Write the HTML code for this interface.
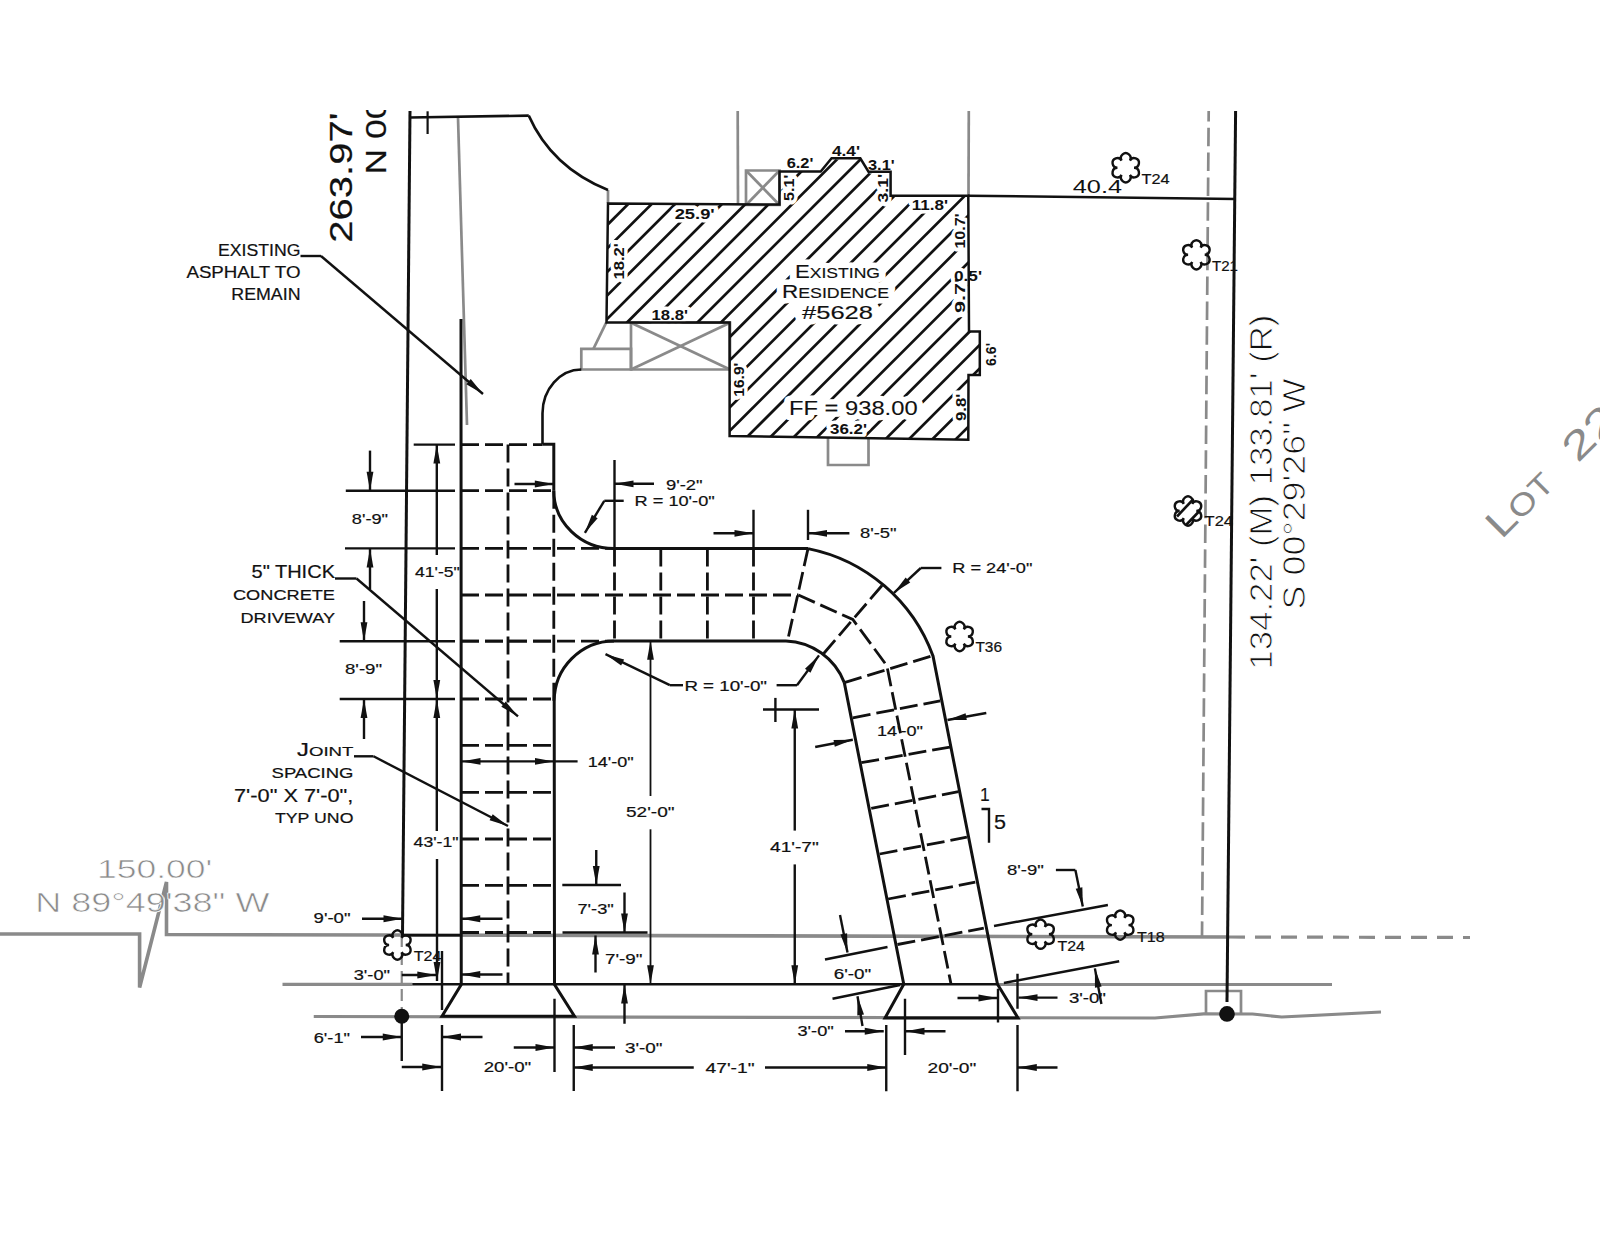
<!DOCTYPE html><html><head><meta charset="utf-8"><style>html,body{margin:0;padding:0;background:#fff;}svg{display:block;}text{font-family:"Liberation Sans",sans-serif;}</style></head><body><svg width="1600" height="1236" viewBox="0 0 1600 1236" font-family="Liberation Sans, sans-serif">
<rect width="1600" height="1236" fill="#fff"/>
<defs><clipPath id="crop"><rect x="0" y="110" width="1600" height="1126"/></clipPath>
<clipPath id="hc"><polygon points="608,203.5 779.5,204.5 779.5,171.5 820.7,171.5 831.6,158.3 860.3,158.3 868.5,171.7 890.6,171.7 890.6,195.7 968.3,195.7 969,331.5 979.8,331.5 979.8,375 968.5,375 968.3,439.8 729.6,436 729.6,322.5 606.5,322.5"/></clipPath></defs>
<g clip-path="url(#crop)">
<line x1="458.00" y1="117.50" x2="467.00" y2="425.00" stroke="#8a8a8a" stroke-width="2.7"/>
<line x1="608.00" y1="190.00" x2="608.00" y2="203.00" stroke="#8a8a8a" stroke-width="2.7"/>
<line x1="737.70" y1="111.00" x2="738.00" y2="205.00" stroke="#8a8a8a" stroke-width="2.7"/>
<polygon points="746.00,170.50 779.50,170.50 779.50,205.00 746.00,205.00" fill="none" stroke="#8a8a8a" stroke-width="2.7" stroke-linejoin="miter"/>
<line x1="746.00" y1="170.50" x2="779.50" y2="205.00" stroke="#8a8a8a" stroke-width="2.7"/>
<line x1="746.00" y1="205.00" x2="779.50" y2="170.50" stroke="#8a8a8a" stroke-width="2.7"/>
<line x1="968.80" y1="111.00" x2="968.50" y2="195.70" stroke="#8a8a8a" stroke-width="2.7"/>
<polygon points="631.00,322.70 730.00,322.70 730.00,369.50 631.00,369.50" fill="none" stroke="#8a8a8a" stroke-width="2.7" stroke-linejoin="miter"/>
<line x1="631.00" y1="322.70" x2="730.00" y2="369.50" stroke="#8a8a8a" stroke-width="2.7"/>
<line x1="631.00" y1="369.50" x2="730.00" y2="322.70" stroke="#8a8a8a" stroke-width="2.7"/>
<polygon points="581.30,348.80 631.00,348.80 631.00,369.50 581.30,369.50" fill="none" stroke="#8a8a8a" stroke-width="2.7" stroke-linejoin="miter"/>
<line x1="606.20" y1="322.70" x2="593.40" y2="348.80" stroke="#8a8a8a" stroke-width="2.7"/>
<polyline points="828.00,438.00 828.00,465.00 868.50,465.00 868.50,438.00" fill="none" stroke="#8a8a8a" stroke-width="2.7" stroke-linejoin="miter"/>
<line x1="1208.7" y1="111" x2="1202" y2="937.5" stroke="#8a8a8a" stroke-width="2.7" stroke-dasharray="18.5 6.3" stroke-dashoffset="8"/>
<polyline points="0.00,934.00 139.60,934.00 139.60,987.50 166.50,882.00 166.50,934.50 1229.00,937.00" fill="none" stroke="#8a8a8a" stroke-width="3.6" stroke-linejoin="miter"/>
<line x1="1229.00" y1="937.00" x2="1470.00" y2="937.50" stroke="#8a8a8a" stroke-width="3.2" stroke-dasharray="16 10"/>
<line x1="282.50" y1="984.30" x2="412.30" y2="984.30" stroke="#8a8a8a" stroke-width="3.2"/>
<line x1="997.50" y1="984.60" x2="1332.00" y2="984.60" stroke="#8a8a8a" stroke-width="3.0"/>
<polyline points="313.75,1016.50 1155.00,1018.00 1203.70,1013.90 1252.50,1014.00 1281.70,1017.00 1381.00,1012.00" fill="none" stroke="#8a8a8a" stroke-width="3.2" stroke-linejoin="miter"/>
<line x1="401.75" y1="935.00" x2="401.75" y2="1010.00" stroke="#8a8a8a" stroke-width="2.2" stroke-dasharray="12 6"/>
<polyline points="1206.00,1014.00 1206.00,991.00 1241.00,991.00 1241.00,1014.00" fill="none" stroke="#8a8a8a" stroke-width="2.7" stroke-linejoin="miter"/>
<text x="97.00" y="878.30" font-size="26.60" font-weight="normal" fill="#8a8a8a" textLength="115.40" lengthAdjust="spacingAndGlyphs" text-anchor="start" stroke="#fff" stroke-width="0.6">150.00'</text>
<text x="35.20" y="911.70" font-size="27.62" font-weight="normal" fill="#8a8a8a" textLength="234.20" lengthAdjust="spacingAndGlyphs" text-anchor="start" stroke="#fff" stroke-width="0.6">N 89°49'38" W</text>
<g transform="translate(1501.5,540) rotate(-45)"><text x="0" y="0" fill="#8a8a8a" textLength="77" lengthAdjust="spacingAndGlyphs"><tspan font-size="39.24">L</tspan><tspan font-size="30.52">OT</tspan></text><text x="108" y="0" fill="#8a8a8a" font-size="39.24" textLength="60" lengthAdjust="spacingAndGlyphs">22</text></g>
<g clip-path="url(#hc)">
<line x1="615.00" y1="100.00" x2="215.00" y2="500.00" stroke="#111" stroke-width="2.7"/>
<line x1="638.45" y1="100.00" x2="238.45" y2="500.00" stroke="#111" stroke-width="2.7"/>
<line x1="661.90" y1="100.00" x2="261.90" y2="500.00" stroke="#111" stroke-width="2.7"/>
<line x1="685.35" y1="100.00" x2="285.35" y2="500.00" stroke="#111" stroke-width="2.7"/>
<line x1="708.80" y1="100.00" x2="308.80" y2="500.00" stroke="#111" stroke-width="2.7"/>
<line x1="732.25" y1="100.00" x2="332.25" y2="500.00" stroke="#111" stroke-width="2.7"/>
<line x1="755.70" y1="100.00" x2="355.70" y2="500.00" stroke="#111" stroke-width="2.7"/>
<line x1="779.15" y1="100.00" x2="379.15" y2="500.00" stroke="#111" stroke-width="2.7"/>
<line x1="802.60" y1="100.00" x2="402.60" y2="500.00" stroke="#111" stroke-width="2.7"/>
<line x1="826.05" y1="100.00" x2="426.05" y2="500.00" stroke="#111" stroke-width="2.7"/>
<line x1="849.50" y1="100.00" x2="449.50" y2="500.00" stroke="#111" stroke-width="2.7"/>
<line x1="872.95" y1="100.00" x2="472.95" y2="500.00" stroke="#111" stroke-width="2.7"/>
<line x1="896.40" y1="100.00" x2="496.40" y2="500.00" stroke="#111" stroke-width="2.7"/>
<line x1="919.85" y1="100.00" x2="519.85" y2="500.00" stroke="#111" stroke-width="2.7"/>
<line x1="943.30" y1="100.00" x2="543.30" y2="500.00" stroke="#111" stroke-width="2.7"/>
<line x1="966.75" y1="100.00" x2="566.75" y2="500.00" stroke="#111" stroke-width="2.7"/>
<line x1="990.20" y1="100.00" x2="590.20" y2="500.00" stroke="#111" stroke-width="2.7"/>
<line x1="1013.65" y1="100.00" x2="613.65" y2="500.00" stroke="#111" stroke-width="2.7"/>
<line x1="1037.10" y1="100.00" x2="637.10" y2="500.00" stroke="#111" stroke-width="2.7"/>
<line x1="1060.55" y1="100.00" x2="660.55" y2="500.00" stroke="#111" stroke-width="2.7"/>
<line x1="1084.00" y1="100.00" x2="684.00" y2="500.00" stroke="#111" stroke-width="2.7"/>
<line x1="1107.45" y1="100.00" x2="707.45" y2="500.00" stroke="#111" stroke-width="2.7"/>
<line x1="1130.90" y1="100.00" x2="730.90" y2="500.00" stroke="#111" stroke-width="2.7"/>
<line x1="1154.35" y1="100.00" x2="754.35" y2="500.00" stroke="#111" stroke-width="2.7"/>
<line x1="1177.80" y1="100.00" x2="777.80" y2="500.00" stroke="#111" stroke-width="2.7"/>
<line x1="1201.25" y1="100.00" x2="801.25" y2="500.00" stroke="#111" stroke-width="2.7"/>
<line x1="1224.70" y1="100.00" x2="824.70" y2="500.00" stroke="#111" stroke-width="2.7"/>
<line x1="1248.15" y1="100.00" x2="848.15" y2="500.00" stroke="#111" stroke-width="2.7"/>
<line x1="1271.60" y1="100.00" x2="871.60" y2="500.00" stroke="#111" stroke-width="2.7"/>
<line x1="1295.05" y1="100.00" x2="895.05" y2="500.00" stroke="#111" stroke-width="2.7"/>
<line x1="1318.50" y1="100.00" x2="918.50" y2="500.00" stroke="#111" stroke-width="2.7"/>
<line x1="1341.95" y1="100.00" x2="941.95" y2="500.00" stroke="#111" stroke-width="2.7"/>
<line x1="1365.40" y1="100.00" x2="965.40" y2="500.00" stroke="#111" stroke-width="2.7"/>
<line x1="1388.85" y1="100.00" x2="988.85" y2="500.00" stroke="#111" stroke-width="2.7"/>
</g>
<text x="674.70" y="218.90" font-size="13.81" font-weight="bold" fill="#fff" stroke="#fff" stroke-width="7" stroke-linejoin="round" textLength="40.00" lengthAdjust="spacingAndGlyphs" text-anchor="start">25.9'</text>
<text x="786.70" y="168.00" font-size="13.81" font-weight="bold" fill="#fff" stroke="#fff" stroke-width="7" stroke-linejoin="round" textLength="26.70" lengthAdjust="spacingAndGlyphs" text-anchor="start">6.2'</text>
<text x="832.00" y="156.40" font-size="13.81" font-weight="bold" fill="#fff" stroke="#fff" stroke-width="7" stroke-linejoin="round" textLength="28.00" lengthAdjust="spacingAndGlyphs" text-anchor="start">4.4'</text>
<text x="868.00" y="169.80" font-size="13.81" font-weight="bold" fill="#fff" stroke="#fff" stroke-width="7" stroke-linejoin="round" textLength="26.70" lengthAdjust="spacingAndGlyphs" text-anchor="start">3.1'</text>
<text x="911.70" y="210.00" font-size="13.81" font-weight="bold" fill="#fff" stroke="#fff" stroke-width="7" stroke-linejoin="round" textLength="36.30" lengthAdjust="spacingAndGlyphs" text-anchor="start">11.8'</text>
<text x="651.60" y="320.40" font-size="13.81" font-weight="bold" fill="#fff" stroke="#fff" stroke-width="7" stroke-linejoin="round" textLength="36.40" lengthAdjust="spacingAndGlyphs" text-anchor="start">18.8'</text>
<text x="830.00" y="434.00" font-size="13.81" font-weight="bold" fill="#fff" stroke="#fff" stroke-width="7" stroke-linejoin="round" textLength="37.00" lengthAdjust="spacingAndGlyphs" text-anchor="start">36.2'</text>
<text x="954.00" y="281.00" font-size="13.81" font-weight="bold" fill="#fff" stroke="#fff" stroke-width="7" stroke-linejoin="round" textLength="28.00" lengthAdjust="spacingAndGlyphs" text-anchor="start">0.5'</text>
<text transform="translate(623.70,279.60) rotate(-90)" x="0" y="0" font-size="13.81" font-weight="bold" fill="#fff" stroke="#fff" stroke-width="7" stroke-linejoin="round" textLength="36.40" lengthAdjust="spacingAndGlyphs" text-anchor="start">18.2'</text>
<text transform="translate(794.00,201.00) rotate(-90)" x="0" y="0" font-size="13.81" font-weight="bold" fill="#fff" stroke="#fff" stroke-width="7" stroke-linejoin="round" textLength="26.40" lengthAdjust="spacingAndGlyphs" text-anchor="start">5.1'</text>
<text transform="translate(887.50,202.50) rotate(-90)" x="0" y="0" font-size="13.81" font-weight="bold" fill="#fff" stroke="#fff" stroke-width="7" stroke-linejoin="round" textLength="28.60" lengthAdjust="spacingAndGlyphs" text-anchor="start">3.1'</text>
<text transform="translate(965.00,248.60) rotate(-90)" x="0" y="0" font-size="13.81" font-weight="bold" fill="#fff" stroke="#fff" stroke-width="7" stroke-linejoin="round" textLength="35.20" lengthAdjust="spacingAndGlyphs" text-anchor="start">10.7'</text>
<text transform="translate(965.00,313.00) rotate(-90)" x="0" y="0" font-size="13.81" font-weight="bold" fill="#fff" stroke="#fff" stroke-width="7" stroke-linejoin="round" textLength="35.20" lengthAdjust="spacingAndGlyphs" text-anchor="start">9.7'</text>
<text transform="translate(995.50,366.00) rotate(-90)" x="0" y="0" font-size="13.81" font-weight="bold" fill="#fff" stroke="#fff" stroke-width="7" stroke-linejoin="round" textLength="23.00" lengthAdjust="spacingAndGlyphs" text-anchor="start">6.6'</text>
<text transform="translate(744.00,396.70) rotate(-90)" x="0" y="0" font-size="13.81" font-weight="bold" fill="#fff" stroke="#fff" stroke-width="7" stroke-linejoin="round" textLength="34.00" lengthAdjust="spacingAndGlyphs" text-anchor="start">16.9'</text>
<text transform="translate(966.40,421.00) rotate(-90)" x="0" y="0" font-size="13.81" font-weight="bold" fill="#fff" stroke="#fff" stroke-width="7" stroke-linejoin="round" textLength="27.20" lengthAdjust="spacingAndGlyphs" text-anchor="start">9.8'</text>
<text x="795.00" y="277.80" fill="#fff" stroke="#fff" stroke-width="11" stroke-linejoin="round" textLength="85.00" lengthAdjust="spacingAndGlyphs"><tspan font-size="17.44">E</tspan><tspan font-size="13.81">XISTING</tspan></text>
<text x="782.00" y="298.40" fill="#fff" stroke="#fff" stroke-width="11" stroke-linejoin="round" textLength="107.00" lengthAdjust="spacingAndGlyphs"><tspan font-size="17.44">R</tspan><tspan font-size="13.81">ESIDENCE</tspan></text>
<text x="802.00" y="318.80" font-size="17.73" font-weight="normal" fill="#fff" stroke="#fff" stroke-width="11" stroke-linejoin="round" textLength="71.00" lengthAdjust="spacingAndGlyphs" text-anchor="start">#5628</text>
<text x="789.00" y="415.40" font-size="19.48" font-weight="normal" fill="#fff" stroke="#fff" stroke-width="11" stroke-linejoin="round" textLength="128.60" lengthAdjust="spacingAndGlyphs" text-anchor="start">FF = 938.00</text>
<polygon points="608.00,203.50 779.50,204.50 779.50,171.50 820.70,171.50 831.60,158.30 860.30,158.30 868.50,171.70 890.60,171.70 890.60,195.70 968.30,195.70 969.00,331.50 979.80,331.50 979.80,375.00 968.50,375.00 968.30,439.80 729.60,436.00 729.60,322.50 606.50,322.50" fill="none" stroke="#111" stroke-width="2.5" stroke-linejoin="miter"/>
<line x1="968.00" y1="195.70" x2="1235.50" y2="199.00" stroke="#111" stroke-width="2.4"/>
<text x="674.70" y="218.90" font-size="13.81" font-weight="bold" fill="#111" textLength="40.00" lengthAdjust="spacingAndGlyphs" text-anchor="start">25.9'</text>
<text x="786.70" y="168.00" font-size="13.81" font-weight="bold" fill="#111" textLength="26.70" lengthAdjust="spacingAndGlyphs" text-anchor="start">6.2'</text>
<text x="832.00" y="156.40" font-size="13.81" font-weight="bold" fill="#111" textLength="28.00" lengthAdjust="spacingAndGlyphs" text-anchor="start">4.4'</text>
<text x="868.00" y="169.80" font-size="13.81" font-weight="bold" fill="#111" textLength="26.70" lengthAdjust="spacingAndGlyphs" text-anchor="start">3.1'</text>
<text x="911.70" y="210.00" font-size="13.81" font-weight="bold" fill="#111" textLength="36.30" lengthAdjust="spacingAndGlyphs" text-anchor="start">11.8'</text>
<text x="651.60" y="320.40" font-size="13.81" font-weight="bold" fill="#111" textLength="36.40" lengthAdjust="spacingAndGlyphs" text-anchor="start">18.8'</text>
<text x="830.00" y="434.00" font-size="13.81" font-weight="bold" fill="#111" textLength="37.00" lengthAdjust="spacingAndGlyphs" text-anchor="start">36.2'</text>
<text x="954.00" y="281.00" font-size="13.81" font-weight="bold" fill="#111" textLength="28.00" lengthAdjust="spacingAndGlyphs" text-anchor="start">0.5'</text>
<text transform="translate(623.70,279.60) rotate(-90)" x="0" y="0" font-size="13.81" font-weight="bold" fill="#111" textLength="36.40" lengthAdjust="spacingAndGlyphs" text-anchor="start">18.2'</text>
<text transform="translate(794.00,201.00) rotate(-90)" x="0" y="0" font-size="13.81" font-weight="bold" fill="#111" textLength="26.40" lengthAdjust="spacingAndGlyphs" text-anchor="start">5.1'</text>
<text transform="translate(887.50,202.50) rotate(-90)" x="0" y="0" font-size="13.81" font-weight="bold" fill="#111" textLength="28.60" lengthAdjust="spacingAndGlyphs" text-anchor="start">3.1'</text>
<text transform="translate(965.00,248.60) rotate(-90)" x="0" y="0" font-size="13.81" font-weight="bold" fill="#111" textLength="35.20" lengthAdjust="spacingAndGlyphs" text-anchor="start">10.7'</text>
<text transform="translate(965.00,313.00) rotate(-90)" x="0" y="0" font-size="13.81" font-weight="bold" fill="#111" textLength="35.20" lengthAdjust="spacingAndGlyphs" text-anchor="start">9.7'</text>
<text transform="translate(995.50,366.00) rotate(-90)" x="0" y="0" font-size="13.81" font-weight="bold" fill="#111" textLength="23.00" lengthAdjust="spacingAndGlyphs" text-anchor="start">6.6'</text>
<text transform="translate(744.00,396.70) rotate(-90)" x="0" y="0" font-size="13.81" font-weight="bold" fill="#111" textLength="34.00" lengthAdjust="spacingAndGlyphs" text-anchor="start">16.9'</text>
<text transform="translate(966.40,421.00) rotate(-90)" x="0" y="0" font-size="13.81" font-weight="bold" fill="#111" textLength="27.20" lengthAdjust="spacingAndGlyphs" text-anchor="start">9.8'</text>
<text x="795.00" y="277.80" fill="#111" stroke="#111" stroke-width="0.15" textLength="85.00" lengthAdjust="spacingAndGlyphs"><tspan font-size="17.44">E</tspan><tspan font-size="13.81">XISTING</tspan></text>
<text x="782.00" y="298.40" fill="#111" stroke="#111" stroke-width="0.15" textLength="107.00" lengthAdjust="spacingAndGlyphs"><tspan font-size="17.44">R</tspan><tspan font-size="13.81">ESIDENCE</tspan></text>
<text x="802.00" y="318.80" font-size="17.73" font-weight="normal" fill="#111" textLength="71.00" lengthAdjust="spacingAndGlyphs" stroke="#111" stroke-width="0.15" text-anchor="start">#5628</text>
<text x="789.00" y="415.40" font-size="19.48" font-weight="normal" fill="#111" textLength="128.60" lengthAdjust="spacingAndGlyphs" stroke="#111" stroke-width="0.1" text-anchor="start">FF = 938.00</text>
<line x1="410.00" y1="111.00" x2="402.50" y2="935.50" stroke="#111" stroke-width="3.0"/>
<polyline points="410.00,117.50 528.75,115.60" fill="none" stroke="#111" stroke-width="2.6" stroke-linejoin="miter"/>
<line x1="427.60" y1="111.30" x2="427.60" y2="134.00" stroke="#111" stroke-width="2.2"/>
<path d="M528.75,115.6 Q551.6,167.2 608,190" fill="none" stroke="#111" stroke-width="2.6"/>
<line x1="1235.60" y1="111.00" x2="1227.00" y2="1002.00" stroke="#111" stroke-width="3.0"/>
<text x="1072.80" y="192.60" font-size="18.90" font-weight="normal" fill="#111" textLength="49.20" lengthAdjust="spacingAndGlyphs" text-anchor="start">40.4</text>
<text transform="translate(352.00,242.70) rotate(-90)" x="0" y="0" font-size="30.52" font-weight="normal" fill="#111" textLength="130.00" lengthAdjust="spacingAndGlyphs" stroke="#111" stroke-width="0.2" text-anchor="start">263.97' </text>
<text transform="translate(386.00,174.60) rotate(-90)" x="0" y="0" font-size="29.80" font-weight="normal" fill="#111" textLength="75.00" lengthAdjust="spacingAndGlyphs" stroke="#111" stroke-width="0.2" text-anchor="start">N 00</text>
<text transform="translate(1272.00,669.50) rotate(-90)" x="0" y="0" font-size="31.98" font-weight="normal" fill="#111" textLength="354.90" lengthAdjust="spacingAndGlyphs" text-anchor="start" stroke="#fff" stroke-width="0.9">134.22' (M)  133.81' (R)</text>
<text transform="translate(1304.70,609.40) rotate(-90)" x="0" y="0" font-size="31.54" font-weight="normal" fill="#111" textLength="231.10" lengthAdjust="spacingAndGlyphs" text-anchor="start" stroke="#fff" stroke-width="0.9">S 00°29'26" W</text>
<path d="M1134.05,167.75 A4.83,4.83 0 1 0 1129.90,160.56 A4.83,4.83 0 1 0 1121.60,160.56 A4.83,4.83 0 1 0 1117.45,167.75 A4.83,4.83 0 1 0 1121.60,174.94 A4.83,4.83 0 1 0 1129.90,174.94 A4.83,4.83 0 1 0 1134.05,167.75Z" fill="none" stroke="#111" stroke-width="2.4"/>
<text x="1141.50" y="183.70" font-size="14.17" font-weight="normal" fill="#111" textLength="28.20" lengthAdjust="spacingAndGlyphs" stroke="#111" stroke-width="0.2" text-anchor="start">T24</text>
<path d="M1204.70,254.80 A4.83,4.83 0 1 0 1200.55,247.61 A4.83,4.83 0 1 0 1192.25,247.61 A4.83,4.83 0 1 0 1188.10,254.80 A4.83,4.83 0 1 0 1192.25,261.99 A4.83,4.83 0 1 0 1200.55,261.99 A4.83,4.83 0 1 0 1204.70,254.80Z" fill="none" stroke="#111" stroke-width="2.4"/>
<text x="1212.00" y="271.00" font-size="14.17" font-weight="normal" fill="#111" textLength="26.00" lengthAdjust="spacingAndGlyphs" stroke="#111" stroke-width="0.2" text-anchor="start">T21</text>
<path d="M1196.30,511.00 A4.83,4.83 0 1 0 1192.15,503.81 A4.83,4.83 0 1 0 1183.85,503.81 A4.83,4.83 0 1 0 1179.70,511.00 A4.83,4.83 0 1 0 1183.85,518.19 A4.83,4.83 0 1 0 1192.15,518.19 A4.83,4.83 0 1 0 1196.30,511.00Z" fill="none" stroke="#111" stroke-width="2.4"/>
<text x="1204.60" y="526.00" font-size="14.17" font-weight="normal" fill="#111" textLength="28.40" lengthAdjust="spacingAndGlyphs" stroke="#111" stroke-width="0.2" text-anchor="start">T24</text>
<path d="M967.90,636.50 A4.83,4.83 0 1 0 963.75,629.31 A4.83,4.83 0 1 0 955.45,629.31 A4.83,4.83 0 1 0 951.30,636.50 A4.83,4.83 0 1 0 955.45,643.69 A4.83,4.83 0 1 0 963.75,643.69 A4.83,4.83 0 1 0 967.90,636.50Z" fill="none" stroke="#111" stroke-width="2.4"/>
<text x="975.40" y="652.30" font-size="14.17" font-weight="normal" fill="#111" textLength="26.60" lengthAdjust="spacingAndGlyphs" stroke="#111" stroke-width="0.2" text-anchor="start">T36</text>
<path d="M405.70,945.00 A4.83,4.83 0 1 0 401.55,937.81 A4.83,4.83 0 1 0 393.25,937.81 A4.83,4.83 0 1 0 389.10,945.00 A4.83,4.83 0 1 0 393.25,952.19 A4.83,4.83 0 1 0 401.55,952.19 A4.83,4.83 0 1 0 405.70,945.00Z" fill="none" stroke="#111" stroke-width="2.4"/>
<text x="413.70" y="960.50" font-size="14.17" font-weight="normal" fill="#111" textLength="27.80" lengthAdjust="spacingAndGlyphs" stroke="#111" stroke-width="0.2" text-anchor="start">T24</text>
<path d="M1048.90,934.20 A4.83,4.83 0 1 0 1044.75,927.01 A4.83,4.83 0 1 0 1036.45,927.01 A4.83,4.83 0 1 0 1032.30,934.20 A4.83,4.83 0 1 0 1036.45,941.39 A4.83,4.83 0 1 0 1044.75,941.39 A4.83,4.83 0 1 0 1048.90,934.20Z" fill="none" stroke="#111" stroke-width="2.4"/>
<text x="1057.50" y="950.50" font-size="14.17" font-weight="normal" fill="#111" textLength="27.50" lengthAdjust="spacingAndGlyphs" stroke="#111" stroke-width="0.2" text-anchor="start">T24</text>
<path d="M1128.50,925.10 A4.83,4.83 0 1 0 1124.35,917.91 A4.83,4.83 0 1 0 1116.05,917.91 A4.83,4.83 0 1 0 1111.90,925.10 A4.83,4.83 0 1 0 1116.05,932.29 A4.83,4.83 0 1 0 1124.35,932.29 A4.83,4.83 0 1 0 1128.50,925.10Z" fill="none" stroke="#111" stroke-width="2.4"/>
<text x="1137.00" y="942.40" font-size="14.17" font-weight="normal" fill="#111" textLength="27.70" lengthAdjust="spacingAndGlyphs" stroke="#111" stroke-width="0.2" text-anchor="start">T18</text>
<line x1="1193.50" y1="499.00" x2="1177.00" y2="516.50" stroke="#111" stroke-width="2.6"/>
<line x1="1199.00" y1="511.50" x2="1186.00" y2="525.00" stroke="#111" stroke-width="2.6"/>
<path d="M581.3,369.5 A39,44 0 0 0 542.5,413.2 L542.5,444.3" fill="none" stroke="#111" stroke-width="2.6"/>
<polyline points="461.00,319.00 461.25,984.50 442.00,1016.25 574.50,1016.25 554.50,984.50 554.20,701.00" fill="none" stroke="#111" stroke-width="3.0" stroke-linejoin="miter"/>
<polyline points="542.50,444.30 553.80,444.30 553.80,490.70" fill="none" stroke="#111" stroke-width="3.0" stroke-linejoin="miter"/>
<path d="M553.8,490.7 A60.2,58 0 0 0 614,548.6 L808,548.6" fill="none" stroke="#111" stroke-width="3.0"/>
<path d="M554.2,701 A60,60 0 0 1 614,641 L786,641" fill="none" stroke="#111" stroke-width="3.0"/>
<path d="M808,548.6 A168.28,168.28 0 0 1 933,656 L997.5,984.25 L1018,1018 L885,1018 L903.75,984.25 L844.3,682.6" fill="none" stroke="#111" stroke-width="3.0"/>
<path d="M786,641 A65.00,65.00 0 0 1 844.3,682.6" fill="none" stroke="#111" stroke-width="3.0"/>
<line x1="412.30" y1="984.30" x2="997.50" y2="984.30" stroke="#111" stroke-width="2.6"/>
<line x1="402.50" y1="935.30" x2="461.80" y2="935.30" stroke="#111" stroke-width="2.6"/>
<line x1="461.00" y1="444.60" x2="542.50" y2="444.60" stroke="#111" stroke-width="2.8" stroke-dasharray="18 6"/>
<line x1="508.00" y1="444.60" x2="508.00" y2="984.50" stroke="#111" stroke-width="2.8" stroke-dasharray="18 6"/>
<line x1="461.00" y1="490.70" x2="554.00" y2="490.70" stroke="#111" stroke-width="2.8" stroke-dasharray="18 6"/>
<line x1="461.00" y1="641.20" x2="554.00" y2="641.20" stroke="#111" stroke-width="2.8" stroke-dasharray="18 6"/>
<line x1="461.00" y1="699.00" x2="554.00" y2="699.00" stroke="#111" stroke-width="2.8" stroke-dasharray="18 6"/>
<line x1="461.00" y1="745.40" x2="554.00" y2="745.40" stroke="#111" stroke-width="2.8" stroke-dasharray="18 6"/>
<line x1="461.00" y1="792.30" x2="554.00" y2="792.30" stroke="#111" stroke-width="2.8" stroke-dasharray="18 6"/>
<line x1="461.00" y1="839.00" x2="554.00" y2="839.00" stroke="#111" stroke-width="2.8" stroke-dasharray="18 6"/>
<line x1="461.00" y1="885.30" x2="554.00" y2="885.30" stroke="#111" stroke-width="2.8" stroke-dasharray="18 6"/>
<line x1="461.00" y1="932.50" x2="554.00" y2="932.50" stroke="#111" stroke-width="2.8" stroke-dasharray="18 6"/>
<line x1="461.00" y1="548.40" x2="614.00" y2="548.40" stroke="#111" stroke-width="2.8" stroke-dasharray="18 6"/>
<line x1="461.00" y1="641.20" x2="614.00" y2="641.20" stroke="#111" stroke-width="2.8" stroke-dasharray="18 6"/>
<line x1="461.00" y1="595.00" x2="798.40" y2="595.00" stroke="#111" stroke-width="2.8" stroke-dasharray="18 6"/>
<line x1="553.80" y1="490.70" x2="553.80" y2="701.00" stroke="#111" stroke-width="2.8" stroke-dasharray="18 6"/>
<line x1="614.50" y1="548.60" x2="614.50" y2="641.00" stroke="#111" stroke-width="2.8" stroke-dasharray="18 6"/>
<line x1="660.80" y1="548.60" x2="660.80" y2="641.00" stroke="#111" stroke-width="2.8" stroke-dasharray="18 6"/>
<line x1="707.40" y1="548.60" x2="707.40" y2="641.00" stroke="#111" stroke-width="2.8" stroke-dasharray="18 6"/>
<line x1="753.50" y1="548.60" x2="753.50" y2="641.00" stroke="#111" stroke-width="2.8" stroke-dasharray="18 6"/>
<line x1="808.00" y1="548.60" x2="787.50" y2="641.00" stroke="#111" stroke-width="2.8" stroke-dasharray="18 6"/>
<polyline points="798.40,595.00 852.80,619.50 886.80,665.60 951.00,984.00" fill="none" stroke="#111" stroke-width="2.8" stroke-linejoin="miter" stroke-dasharray="18 6"/>
<line x1="882.00" y1="585.50" x2="823.70" y2="653.50" stroke="#111" stroke-width="2.8" stroke-dasharray="18 6"/>
<line x1="844.30" y1="682.60" x2="931.70" y2="656.00" stroke="#111" stroke-width="2.8" stroke-dasharray="18 6"/>
<line x1="852.80" y1="717.80" x2="940.20" y2="700.80" stroke="#111" stroke-width="2.8" stroke-dasharray="18 6"/>
<line x1="861.30" y1="762.70" x2="950.00" y2="747.00" stroke="#111" stroke-width="2.8" stroke-dasharray="18 6"/>
<line x1="871.25" y1="808.30" x2="958.50" y2="791.60" stroke="#111" stroke-width="2.8" stroke-dasharray="18 6"/>
<line x1="879.70" y1="854.00" x2="966.90" y2="837.20" stroke="#111" stroke-width="2.8" stroke-dasharray="18 6"/>
<line x1="888.10" y1="899.00" x2="975.30" y2="882.20" stroke="#111" stroke-width="2.8" stroke-dasharray="18 6"/>
<line x1="897.50" y1="944.50" x2="983.80" y2="928.10" stroke="#111" stroke-width="2.8" stroke-dasharray="18 6"/>
<line x1="413.70" y1="444.60" x2="455.00" y2="444.60" stroke="#111" stroke-width="2.4"/>
<line x1="345.80" y1="490.70" x2="455.00" y2="490.70" stroke="#111" stroke-width="2.4"/>
<line x1="345.00" y1="548.40" x2="455.00" y2="548.40" stroke="#111" stroke-width="2.4"/>
<line x1="339.70" y1="641.20" x2="455.00" y2="641.20" stroke="#111" stroke-width="2.4"/>
<line x1="339.70" y1="699.00" x2="455.00" y2="699.00" stroke="#111" stroke-width="2.4"/>
<line x1="370.00" y1="450.60" x2="370.00" y2="490.70" stroke="#111" stroke-width="2.4"/>
<polygon points="370.00,490.70 366.60,471.70 373.40,471.70" fill="#111"/>
<line x1="370.00" y1="589.00" x2="370.00" y2="548.40" stroke="#111" stroke-width="2.4"/>
<polygon points="370.00,548.40 373.40,567.40 366.60,567.40" fill="#111"/>
<line x1="364.00" y1="601.00" x2="364.00" y2="641.20" stroke="#111" stroke-width="2.4"/>
<polygon points="364.00,641.20 360.60,622.20 367.40,622.20" fill="#111"/>
<line x1="364.00" y1="739.00" x2="364.00" y2="699.00" stroke="#111" stroke-width="2.4"/>
<polygon points="364.00,699.00 367.40,718.00 360.60,718.00" fill="#111"/>
<line x1="436.80" y1="555.00" x2="436.80" y2="444.60" stroke="#111" stroke-width="2.4"/>
<polygon points="436.80,444.60 440.20,463.60 433.40,463.60" fill="#111"/>
<line x1="436.80" y1="589.00" x2="436.80" y2="699.00" stroke="#111" stroke-width="2.4"/>
<polygon points="436.80,699.00 433.40,680.00 440.20,680.00" fill="#111"/>
<line x1="436.80" y1="831.00" x2="436.80" y2="699.00" stroke="#111" stroke-width="2.4"/>
<polygon points="436.80,699.00 440.20,718.00 433.40,718.00" fill="#111"/>
<line x1="437.00" y1="859.00" x2="437.00" y2="981.00" stroke="#111" stroke-width="2.4"/>
<polygon points="437.00,981.00 433.60,962.00 440.40,962.00" fill="#111"/>
<text x="351.80" y="524.00" font-size="14.24" font-weight="normal" fill="#111" textLength="36.20" lengthAdjust="spacingAndGlyphs" stroke="#111" stroke-width="0.2" text-anchor="start">8'-9"</text>
<text x="415.00" y="576.80" font-size="14.24" font-weight="normal" fill="#111" textLength="44.80" lengthAdjust="spacingAndGlyphs" stroke="#111" stroke-width="0.2" text-anchor="start">41'-5"</text>
<text x="345.00" y="674.00" font-size="14.24" font-weight="normal" fill="#111" textLength="37.00" lengthAdjust="spacingAndGlyphs" stroke="#111" stroke-width="0.2" text-anchor="start">8'-9"</text>
<text x="413.60" y="846.80" font-size="14.24" font-weight="normal" fill="#111" textLength="44.90" lengthAdjust="spacingAndGlyphs" stroke="#111" stroke-width="0.2" text-anchor="start">43'-1"</text>
<line x1="514.50" y1="484.00" x2="553.80" y2="484.00" stroke="#111" stroke-width="2.4"/>
<polygon points="553.80,484.00 534.80,487.40 534.80,480.60" fill="#111"/>
<line x1="654.00" y1="483.80" x2="614.50" y2="483.80" stroke="#111" stroke-width="2.4"/>
<polygon points="614.50,483.80 633.50,480.40 633.50,487.20" fill="#111"/>
<line x1="614.50" y1="460.00" x2="614.50" y2="548.60" stroke="#111" stroke-width="2.4"/>
<text x="666.00" y="489.60" font-size="14.24" font-weight="normal" fill="#111" textLength="36.60" lengthAdjust="spacingAndGlyphs" stroke="#111" stroke-width="0.2" text-anchor="start">9'-2"</text>
<polyline points="623.70,500.80 604.30,500.80" fill="none" stroke="#111" stroke-width="2.4" stroke-linejoin="miter"/>
<line x1="604.30" y1="500.80" x2="584.90" y2="532.80" stroke="#111" stroke-width="2.4"/>
<polygon points="584.90,532.80 591.84,514.79 597.66,518.32" fill="#111"/>
<text x="634.60" y="505.60" font-size="14.24" font-weight="normal" fill="#111" textLength="80.10" lengthAdjust="spacingAndGlyphs" stroke="#111" stroke-width="0.2" text-anchor="start">R = 10'-0"</text>
<line x1="753.50" y1="509.80" x2="753.50" y2="548.00" stroke="#111" stroke-width="2.4"/>
<line x1="713.50" y1="533.30" x2="753.50" y2="533.30" stroke="#111" stroke-width="2.4"/>
<polygon points="753.50,533.30 734.50,536.70 734.50,529.90" fill="#111"/>
<line x1="808.00" y1="509.80" x2="808.00" y2="540.00" stroke="#111" stroke-width="2.4"/>
<line x1="849.40" y1="533.30" x2="808.00" y2="533.30" stroke="#111" stroke-width="2.4"/>
<polygon points="808.00,533.30 827.00,529.90 827.00,536.70" fill="#111"/>
<text x="860.00" y="538.20" font-size="14.24" font-weight="normal" fill="#111" textLength="36.50" lengthAdjust="spacingAndGlyphs" stroke="#111" stroke-width="0.2" text-anchor="start">8'-5"</text>
<polyline points="941.40,568.00 920.80,568.00" fill="none" stroke="#111" stroke-width="2.4" stroke-linejoin="miter"/>
<line x1="920.80" y1="568.00" x2="894.00" y2="592.80" stroke="#111" stroke-width="2.4"/>
<polygon points="894.00,592.80 905.64,577.40 910.25,582.39" fill="#111"/>
<text x="952.30" y="573.40" font-size="14.24" font-weight="normal" fill="#111" textLength="80.10" lengthAdjust="spacingAndGlyphs" stroke="#111" stroke-width="0.2" text-anchor="start">R = 24'-0"</text>
<polyline points="683.00,685.20 669.80,685.20" fill="none" stroke="#111" stroke-width="2.4" stroke-linejoin="miter"/>
<line x1="669.80" y1="685.20" x2="605.50" y2="654.20" stroke="#111" stroke-width="2.4"/>
<polygon points="605.50,654.20 624.09,659.39 621.14,665.51" fill="#111"/>
<polyline points="776.60,685.20 797.00,685.20" fill="none" stroke="#111" stroke-width="2.4" stroke-linejoin="miter"/>
<line x1="797.00" y1="685.20" x2="819.00" y2="655.40" stroke="#111" stroke-width="2.4"/>
<polygon points="819.00,655.40 810.45,672.71 804.98,668.67" fill="#111"/>
<text x="684.40" y="690.60" font-size="14.24" font-weight="normal" fill="#111" textLength="82.60" lengthAdjust="spacingAndGlyphs" stroke="#111" stroke-width="0.2" text-anchor="start">R = 10'-0"</text>
<line x1="650.50" y1="796.00" x2="650.50" y2="640.80" stroke="#111" stroke-width="1.8"/>
<polygon points="650.50,640.80 653.90,659.80 647.10,659.80" fill="#111"/>
<line x1="650.50" y1="829.30" x2="650.50" y2="984.25" stroke="#111" stroke-width="1.8"/>
<polygon points="650.50,984.25 647.10,965.25 653.90,965.25" fill="#111"/>
<text x="626.00" y="817.40" font-size="14.24" font-weight="normal" fill="#111" textLength="48.50" lengthAdjust="spacingAndGlyphs" stroke="#111" stroke-width="0.2" text-anchor="start">52'-0"</text>
<line x1="763.00" y1="709.50" x2="819.00" y2="709.50" stroke="#111" stroke-width="2.4"/>
<line x1="775.40" y1="697.90" x2="775.40" y2="722.00" stroke="#111" stroke-width="2.4"/>
<line x1="794.75" y1="830.60" x2="794.75" y2="709.50" stroke="#111" stroke-width="2.4"/>
<polygon points="794.75,709.50 798.15,728.50 791.35,728.50" fill="#111"/>
<line x1="794.75" y1="864.40" x2="794.75" y2="984.25" stroke="#111" stroke-width="2.4"/>
<polygon points="794.75,984.25 791.35,965.25 798.15,965.25" fill="#111"/>
<text x="770.00" y="852.20" font-size="14.24" font-weight="normal" fill="#111" textLength="48.75" lengthAdjust="spacingAndGlyphs" stroke="#111" stroke-width="0.2" text-anchor="start">41'-7"</text>
<line x1="815.20" y1="747.00" x2="852.80" y2="739.70" stroke="#111" stroke-width="2.4"/>
<polygon points="852.80,739.70 834.80,746.66 833.50,739.98" fill="#111"/>
<line x1="986.30" y1="713.00" x2="947.50" y2="720.00" stroke="#111" stroke-width="2.4"/>
<polygon points="947.50,720.00 965.59,713.28 966.80,719.97" fill="#111"/>
<text x="877.00" y="735.50" font-size="14.24" font-weight="normal" fill="#111" textLength="46.00" lengthAdjust="spacingAndGlyphs" stroke="#111" stroke-width="0.2" text-anchor="start">14'-0"</text>
<line x1="461.00" y1="761.40" x2="577.60" y2="761.40" stroke="#111" stroke-width="2.4"/>
<polygon points="461.50,761.40 480.50,758.00 480.50,764.80" fill="#111"/>
<polygon points="554.00,761.40 535.00,764.80 535.00,758.00" fill="#111"/>
<text x="587.80" y="766.50" font-size="14.24" font-weight="normal" fill="#111" textLength="45.90" lengthAdjust="spacingAndGlyphs" stroke="#111" stroke-width="0.2" text-anchor="start">14'-0"</text>
<text x="980.00" y="800.60" font-size="17.44" font-weight="normal" fill="#111" stroke="#111" stroke-width="0.1" text-anchor="start">1</text>
<polyline points="981.50,809.00 989.00,809.00 989.00,842.80" fill="none" stroke="#111" stroke-width="2.4" stroke-linejoin="miter"/>
<text x="994.00" y="828.75" font-size="20.35" font-weight="normal" fill="#111" textLength="12.00" lengthAdjust="spacingAndGlyphs" stroke="#111" stroke-width="0.2" text-anchor="start">5</text>
<line x1="562.30" y1="885.00" x2="621.00" y2="885.00" stroke="#111" stroke-width="2.4"/>
<line x1="562.50" y1="932.50" x2="647.50" y2="932.50" stroke="#111" stroke-width="2.4"/>
<line x1="596.25" y1="850.00" x2="596.25" y2="885.00" stroke="#111" stroke-width="2.4"/>
<polygon points="596.25,885.00 592.85,866.00 599.65,866.00" fill="#111"/>
<line x1="624.50" y1="892.50" x2="624.50" y2="932.50" stroke="#111" stroke-width="2.4"/>
<polygon points="624.50,932.50 621.10,913.50 627.90,913.50" fill="#111"/>
<text x="577.50" y="913.75" font-size="14.24" font-weight="normal" fill="#111" textLength="36.25" lengthAdjust="spacingAndGlyphs" stroke="#111" stroke-width="0.2" text-anchor="start">7'-3"</text>
<line x1="595.50" y1="972.50" x2="595.50" y2="935.50" stroke="#111" stroke-width="2.4"/>
<polygon points="595.50,935.50 598.90,954.50 592.10,954.50" fill="#111"/>
<line x1="624.50" y1="1023.75" x2="624.50" y2="984.50" stroke="#111" stroke-width="2.4"/>
<polygon points="624.50,984.50 627.90,1003.50 621.10,1003.50" fill="#111"/>
<text x="605.00" y="963.75" font-size="14.24" font-weight="normal" fill="#111" textLength="37.50" lengthAdjust="spacingAndGlyphs" stroke="#111" stroke-width="0.2" text-anchor="start">7'-9"</text>
<line x1="362.00" y1="918.75" x2="402.50" y2="918.75" stroke="#111" stroke-width="2.4"/>
<polygon points="402.50,918.75 383.50,922.15 383.50,915.35" fill="#111"/>
<line x1="502.50" y1="918.75" x2="461.25" y2="918.75" stroke="#111" stroke-width="2.4"/>
<polygon points="461.25,918.75 480.25,915.35 480.25,922.15" fill="#111"/>
<text x="313.60" y="923.30" font-size="14.24" font-weight="normal" fill="#111" textLength="36.90" lengthAdjust="spacingAndGlyphs" stroke="#111" stroke-width="0.2" text-anchor="start">9'-0"</text>
<line x1="401.75" y1="975.00" x2="436.30" y2="975.00" stroke="#111" stroke-width="2.4"/>
<polygon points="436.30,975.00 417.30,978.40 417.30,971.60" fill="#111"/>
<line x1="502.50" y1="974.50" x2="461.25" y2="974.50" stroke="#111" stroke-width="2.4"/>
<polygon points="461.25,974.50 480.25,971.10 480.25,977.90" fill="#111"/>
<line x1="442.00" y1="951.00" x2="442.00" y2="1010.00" stroke="#111" stroke-width="2.4"/>
<text x="353.75" y="980.00" font-size="14.24" font-weight="normal" fill="#111" textLength="36.25" lengthAdjust="spacingAndGlyphs" stroke="#111" stroke-width="0.2" text-anchor="start">3'-0"</text>
<line x1="361.00" y1="1037.00" x2="401.75" y2="1037.00" stroke="#111" stroke-width="2.4"/>
<polygon points="401.75,1037.00 382.75,1040.40 382.75,1033.60" fill="#111"/>
<line x1="401.75" y1="1016.00" x2="401.75" y2="1061.00" stroke="#111" stroke-width="2.4"/>
<line x1="401.75" y1="1067.00" x2="441.25" y2="1067.00" stroke="#111" stroke-width="2.4"/>
<polygon points="441.25,1067.00 422.25,1070.40 422.25,1063.60" fill="#111"/>
<line x1="442.00" y1="1025.00" x2="442.00" y2="1091.00" stroke="#111" stroke-width="2.4"/>
<line x1="482.50" y1="1037.00" x2="442.00" y2="1037.00" stroke="#111" stroke-width="2.4"/>
<polygon points="442.00,1037.00 461.00,1033.60 461.00,1040.40" fill="#111"/>
<text x="313.75" y="1042.50" font-size="14.24" font-weight="normal" fill="#111" textLength="36.25" lengthAdjust="spacingAndGlyphs" stroke="#111" stroke-width="0.2" text-anchor="start">6'-1"</text>
<line x1="554.50" y1="998.75" x2="554.50" y2="1072.00" stroke="#111" stroke-width="2.4"/>
<line x1="573.75" y1="1025.00" x2="573.75" y2="1091.00" stroke="#111" stroke-width="2.4"/>
<line x1="513.75" y1="1047.50" x2="554.50" y2="1047.50" stroke="#111" stroke-width="2.4"/>
<polygon points="554.50,1047.50 535.50,1050.90 535.50,1044.10" fill="#111"/>
<line x1="615.00" y1="1047.50" x2="573.75" y2="1047.50" stroke="#111" stroke-width="2.4"/>
<polygon points="573.75,1047.50 592.75,1044.10 592.75,1050.90" fill="#111"/>
<text x="483.75" y="1072.00" font-size="14.24" font-weight="normal" fill="#111" textLength="47.50" lengthAdjust="spacingAndGlyphs" stroke="#111" stroke-width="0.2" text-anchor="start">20'-0"</text>
<text x="625.00" y="1052.50" font-size="14.24" font-weight="normal" fill="#111" textLength="37.50" lengthAdjust="spacingAndGlyphs" stroke="#111" stroke-width="0.2" text-anchor="start">3'-0"</text>
<line x1="693.75" y1="1067.50" x2="573.75" y2="1067.50" stroke="#111" stroke-width="2.4"/>
<polygon points="573.75,1067.50 592.75,1064.10 592.75,1070.90" fill="#111"/>
<line x1="765.00" y1="1067.50" x2="886.25" y2="1067.50" stroke="#111" stroke-width="2.4"/>
<polygon points="886.25,1067.50 867.25,1070.90 867.25,1064.10" fill="#111"/>
<text x="705.50" y="1072.50" font-size="14.24" font-weight="normal" fill="#111" textLength="49.00" lengthAdjust="spacingAndGlyphs" stroke="#111" stroke-width="0.2" text-anchor="start">47'-1"</text>
<line x1="825.00" y1="959.50" x2="887.50" y2="947.00" stroke="#111" stroke-width="2.4"/>
<line x1="840.00" y1="915.00" x2="847.50" y2="952.50" stroke="#111" stroke-width="2.4"/>
<polygon points="847.50,952.50 840.44,934.54 847.11,933.20" fill="#111"/>
<line x1="832.50" y1="998.75" x2="900.00" y2="985.00" stroke="#111" stroke-width="2.4"/>
<line x1="862.50" y1="1026.00" x2="857.50" y2="996.25" stroke="#111" stroke-width="2.4"/>
<polygon points="857.50,996.25 864.00,1014.42 857.30,1015.55" fill="#111"/>
<line x1="845.00" y1="1031.25" x2="883.75" y2="1031.25" stroke="#111" stroke-width="2.4"/>
<polygon points="883.75,1031.25 864.75,1034.65 864.75,1027.85" fill="#111"/>
<line x1="945.50" y1="1031.25" x2="905.50" y2="1031.25" stroke="#111" stroke-width="2.4"/>
<polygon points="905.50,1031.25 924.50,1027.85 924.50,1034.65" fill="#111"/>
<text x="833.75" y="978.75" font-size="14.24" font-weight="normal" fill="#111" textLength="37.50" lengthAdjust="spacingAndGlyphs" stroke="#111" stroke-width="0.2" text-anchor="start">6'-0"</text>
<text x="797.50" y="1036.25" font-size="14.24" font-weight="normal" fill="#111" textLength="36.25" lengthAdjust="spacingAndGlyphs" stroke="#111" stroke-width="0.2" text-anchor="start">3'-0"</text>
<line x1="886.25" y1="1025.00" x2="886.25" y2="1091.25" stroke="#111" stroke-width="2.4"/>
<line x1="905.00" y1="998.75" x2="905.00" y2="1055.00" stroke="#111" stroke-width="2.4"/>
<line x1="998.00" y1="988.75" x2="998.00" y2="1022.50" stroke="#111" stroke-width="2.4"/>
<line x1="1017.50" y1="973.75" x2="1017.50" y2="1008.75" stroke="#111" stroke-width="2.4"/>
<line x1="1017.50" y1="1025.00" x2="1017.50" y2="1091.25" stroke="#111" stroke-width="2.4"/>
<line x1="957.50" y1="998.00" x2="997.50" y2="998.00" stroke="#111" stroke-width="2.4"/>
<polygon points="997.50,998.00 978.50,1001.40 978.50,994.60" fill="#111"/>
<line x1="1057.50" y1="997.60" x2="1018.50" y2="997.60" stroke="#111" stroke-width="2.4"/>
<polygon points="1018.50,997.60 1037.50,994.20 1037.50,1001.00" fill="#111"/>
<line x1="1057.50" y1="1067.50" x2="1017.80" y2="1067.50" stroke="#111" stroke-width="2.4"/>
<polygon points="1017.80,1067.50 1036.80,1064.10 1036.80,1070.90" fill="#111"/>
<text x="927.50" y="1072.50" font-size="14.24" font-weight="normal" fill="#111" textLength="48.75" lengthAdjust="spacingAndGlyphs" stroke="#111" stroke-width="0.2" text-anchor="start">20'-0"</text>
<text x="1068.90" y="1002.50" font-size="14.24" font-weight="normal" fill="#111" textLength="37.10" lengthAdjust="spacingAndGlyphs" stroke="#111" stroke-width="0.2" text-anchor="start">3'-0"</text>
<polyline points="1055.90,870.00 1075.40,870.00" fill="none" stroke="#111" stroke-width="2.4" stroke-linejoin="miter"/>
<line x1="1075.40" y1="870.00" x2="1082.80" y2="906.60" stroke="#111" stroke-width="2.4"/>
<polygon points="1082.80,906.60 1075.70,888.65 1082.37,887.30" fill="#111"/>
<line x1="994.00" y1="926.00" x2="1107.90" y2="905.00" stroke="#111" stroke-width="2.4"/>
<line x1="1003.90" y1="983.00" x2="1119.20" y2="961.20" stroke="#111" stroke-width="2.4"/>
<line x1="1101.40" y1="1004.00" x2="1094.90" y2="968.40" stroke="#111" stroke-width="2.4"/>
<polygon points="1094.90,968.40 1101.66,986.48 1094.97,987.70" fill="#111"/>
<text x="1007.00" y="875.00" font-size="14.24" font-weight="normal" fill="#111" textLength="36.80" lengthAdjust="spacingAndGlyphs" stroke="#111" stroke-width="0.2" text-anchor="start">8'-9"</text>
<circle cx="401.75" cy="1016.25" r="7.5" fill="#111"/>
<circle cx="1227" cy="1013.9" r="7.8" fill="#111"/>
<polyline points="300.50,256.00 321.00,256.00" fill="none" stroke="#111" stroke-width="2.4" stroke-linejoin="miter"/>
<line x1="321.00" y1="256.00" x2="483.00" y2="394.00" stroke="#111" stroke-width="2.4"/>
<polygon points="483.00,394.00 466.33,384.27 470.74,379.09" fill="#111"/>
<polyline points="335.00,578.50 356.50,578.50" fill="none" stroke="#111" stroke-width="2.4" stroke-linejoin="miter"/>
<line x1="356.50" y1="578.50" x2="518.00" y2="716.40" stroke="#111" stroke-width="2.4"/>
<polygon points="518.00,716.40 501.34,706.65 505.76,701.48" fill="#111"/>
<polyline points="354.00,756.30 373.50,756.30" fill="none" stroke="#111" stroke-width="2.4" stroke-linejoin="miter"/>
<line x1="373.50" y1="756.30" x2="508.00" y2="826.00" stroke="#111" stroke-width="2.4"/>
<polygon points="508.00,826.00 489.57,820.28 492.69,814.24" fill="#111"/>
<text x="218.00" y="256.00" fill="#111" stroke="#111" stroke-width="0.2" textLength="82.50" lengthAdjust="spacingAndGlyphs"><tspan font-size="15.99">E</tspan><tspan font-size="15.99">XISTING</tspan></text>
<text x="186.40" y="277.70" fill="#111" stroke="#111" stroke-width="0.2" textLength="114.10" lengthAdjust="spacingAndGlyphs"><tspan font-size="15.99">A</tspan><tspan font-size="15.99">SPHALT</tspan><tspan font-size="15.99"> </tspan><tspan font-size="15.99">T</tspan><tspan font-size="15.99">O</tspan></text>
<text x="231.30" y="299.50" fill="#111" stroke="#111" stroke-width="0.2" textLength="69.20" lengthAdjust="spacingAndGlyphs"><tspan font-size="15.99">R</tspan><tspan font-size="15.99">EMAIN</tspan></text>
<text x="251.50" y="578.00" font-size="17.44" font-weight="normal" fill="#111" textLength="83.50" lengthAdjust="spacingAndGlyphs" stroke="#111" stroke-width="0.2" text-anchor="start">5" THICK</text>
<text x="233.00" y="600.00" fill="#111" stroke="#111" stroke-width="0.2" textLength="102.00" lengthAdjust="spacingAndGlyphs"><tspan font-size="15.26">C</tspan><tspan font-size="15.26">ONCRETE</tspan></text>
<text x="240.50" y="622.50" fill="#111" stroke="#111" stroke-width="0.2" textLength="94.50" lengthAdjust="spacingAndGlyphs"><tspan font-size="15.26">D</tspan><tspan font-size="15.26">RIVEWAY</tspan></text>
<text x="297.00" y="756.30" fill="#111" stroke="#111" stroke-width="0.2" textLength="56.40" lengthAdjust="spacingAndGlyphs"><tspan font-size="17.44">J</tspan><tspan font-size="13.66">OINT</tspan></text>
<text x="271.60" y="778.20" fill="#111" stroke="#111" stroke-width="0.2" textLength="81.80" lengthAdjust="spacingAndGlyphs"><tspan font-size="14.24">S</tspan><tspan font-size="14.24">PACING</tspan></text>
<text x="234.00" y="801.50" font-size="18.90" font-weight="normal" fill="#111" textLength="119.40" lengthAdjust="spacingAndGlyphs" stroke="#111" stroke-width="0.2" text-anchor="start">7'-0" X 7'-0",</text>
<text x="275.00" y="822.60" fill="#111" stroke="#111" stroke-width="0.2" textLength="78.40" lengthAdjust="spacingAndGlyphs"><tspan font-size="15.26">T</tspan><tspan font-size="15.26">YP</tspan><tspan font-size="15.26"> </tspan><tspan font-size="15.26">U</tspan><tspan font-size="15.26">NO</tspan></text>
</g></svg></body></html>
